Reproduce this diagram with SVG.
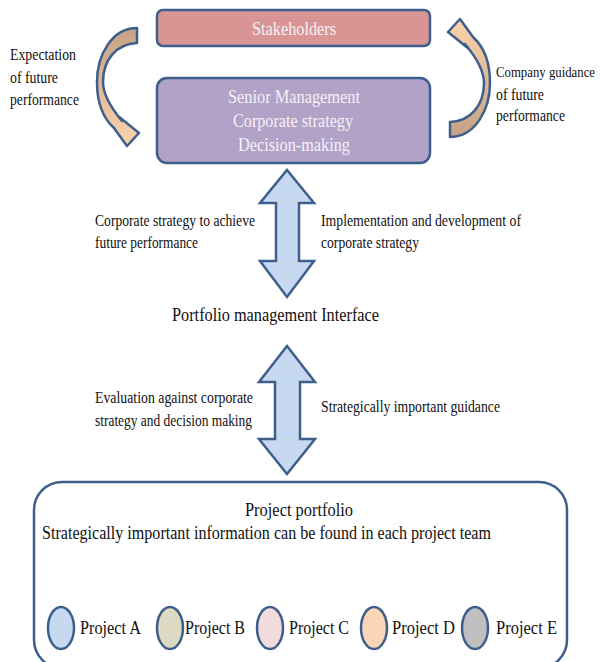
<svg xmlns="http://www.w3.org/2000/svg" width="601" height="662" viewBox="0 0 601 662" font-family="'Liberation Serif', 'Times New Roman', serif">
<style>
.box{stroke:#3e5f8c;stroke-width:2.5}
.arr{fill:#c6d9f1;stroke:#3e5f8c;stroke-width:2.5;stroke-linejoin:miter}
.curv{fill:url(#cg);stroke:#3e5f8c;stroke-width:2.5;stroke-linejoin:round}
.ell{stroke:#3e5f8c;stroke-width:2.5}
text{fill:#111}
.w{fill:#f4f1f6;font-size:18px}
.s{font-size:16px}
.m{font-size:18px}
</style>
<defs>
<linearGradient id="cg" gradientUnits="userSpaceOnUse" x1="0" y1="28" x2="0" y2="146">
<stop offset="0" stop-color="#c4a285"/>
<stop offset="1" stop-color="#fcd3ac"/>
</linearGradient>
</defs>
<g id="connectors">
<path class="curv" d="M137,28 C112,28 97,55 97,82 C97,104 104,119 114,128 L127,146 L139,133 L118,116 L122,121 C112,109 103,96 103,82 C103,60 116,44 137,43 Z"/>
<path class="curv" transform="rotate(180 293.5 82.5)" d="M137,28 C112,28 97,55 97,82 C97,104 104,119 114,128 L127,146 L139,133 L118,116 L122,121 C112,109 103,96 103,82 C103,60 116,44 137,43 Z"/>
<path class="arr" d="M287,170 L314,203 L299,203 L299,261 L314,261 L287,297 L260,261 L276,261 L276,203 L260,203 Z"/>
<path class="arr" d="M287,346 L315,382 L300,382 L300,439 L315,439 L287,474 L259,439 L275,439 L275,382 L259,382 Z"/>
</g>
<g id="stakeholders">
<rect class="box" x="157" y="10" width="273" height="36" rx="6" fill="#d99594"/>
<text class="w" x="294" y="35" text-anchor="middle" textLength="84" lengthAdjust="spacingAndGlyphs">Stakeholders</text>
</g>
<g id="senior">
<rect class="box" x="157" y="78" width="273" height="85" rx="10" fill="#b2a2c7"/>
<text class="w" x="294" y="103" text-anchor="middle" textLength="132" lengthAdjust="spacingAndGlyphs">Senior Management</text>
<text class="w" x="293" y="127" text-anchor="middle" textLength="120" lengthAdjust="spacingAndGlyphs">Corporate strategy</text>
<text class="w" x="294" y="151" text-anchor="middle" textLength="112" lengthAdjust="spacingAndGlyphs">Decision-making</text>
</g>
<g id="label-expectation">
<text class="s" x="10" y="60" textLength="66" lengthAdjust="spacingAndGlyphs">Expectation</text>
<text class="s" x="10" y="83" textLength="48" lengthAdjust="spacingAndGlyphs">of future</text>
<text class="s" x="10" y="105" textLength="69" lengthAdjust="spacingAndGlyphs">performance</text>
</g>
<g id="label-guidance">
<text x="496" y="77" font-size="14.5" textLength="99" lengthAdjust="spacingAndGlyphs">Company guidance</text>
<text class="s" x="496" y="100" textLength="48" lengthAdjust="spacingAndGlyphs">of future</text>
<text class="s" x="496" y="121" textLength="69" lengthAdjust="spacingAndGlyphs">performance</text>
</g>
<g id="label-upper">
<text class="s" x="95" y="226" textLength="160" lengthAdjust="spacingAndGlyphs">Corporate strategy to achieve</text>
<text class="s" x="95" y="248" textLength="103" lengthAdjust="spacingAndGlyphs">future performance</text>
<text class="s" x="321" y="226" textLength="200" lengthAdjust="spacingAndGlyphs">Implementation and development of</text>
<text class="s" x="321" y="248" textLength="98" lengthAdjust="spacingAndGlyphs">corporate strategy</text>
</g>
<g id="interface">
<text class="m" x="172" y="321" textLength="207" lengthAdjust="spacingAndGlyphs">Portfolio management Interface</text>
</g>
<g id="label-lower">
<text class="s" x="95" y="403" textLength="158" lengthAdjust="spacingAndGlyphs">Evaluation against corporate</text>
<text class="s" x="95" y="426" textLength="157" lengthAdjust="spacingAndGlyphs">strategy and decision making</text>
<text class="s" x="321" y="412" textLength="179" lengthAdjust="spacingAndGlyphs">Strategically important guidance</text>
</g>
<g id="portfolio">
<rect class="box" x="34" y="482" width="533" height="186" rx="28" fill="#fff"/>
<text class="m" x="245" y="516" textLength="108" lengthAdjust="spacingAndGlyphs">Project portfolio</text>
<text class="m" x="42" y="539" textLength="449" lengthAdjust="spacingAndGlyphs">Strategically important information can be found in each project team</text>
</g>
<g id="project-a">
<ellipse class="ell" cx="61" cy="628" rx="13" ry="21" fill="#c6d9f1"/>
<text class="m" x="80" y="634" textLength="61" lengthAdjust="spacingAndGlyphs">Project A</text>
</g>
<g id="project-b">
<ellipse class="ell" cx="170" cy="628" rx="13" ry="21" fill="#ddd9c3"/>
<text class="m" x="185" y="634" textLength="60" lengthAdjust="spacingAndGlyphs">Project B</text>
</g>
<g id="project-c">
<ellipse class="ell" cx="270" cy="628" rx="13" ry="21" fill="#f2dcdb"/>
<text class="m" x="289" y="634" textLength="60" lengthAdjust="spacingAndGlyphs">Project C</text>
</g>
<g id="project-d">
<ellipse class="ell" cx="374" cy="628" rx="13" ry="21" fill="#fbd5b5"/>
<text class="m" x="392" y="634" textLength="63" lengthAdjust="spacingAndGlyphs">Project D</text>
</g>
<g id="project-e">
<ellipse class="ell" cx="475" cy="628" rx="13" ry="21" fill="#bfbfbf"/>
<text class="m" x="496" y="634" textLength="61" lengthAdjust="spacingAndGlyphs">Project E</text>
</g>
</svg>
